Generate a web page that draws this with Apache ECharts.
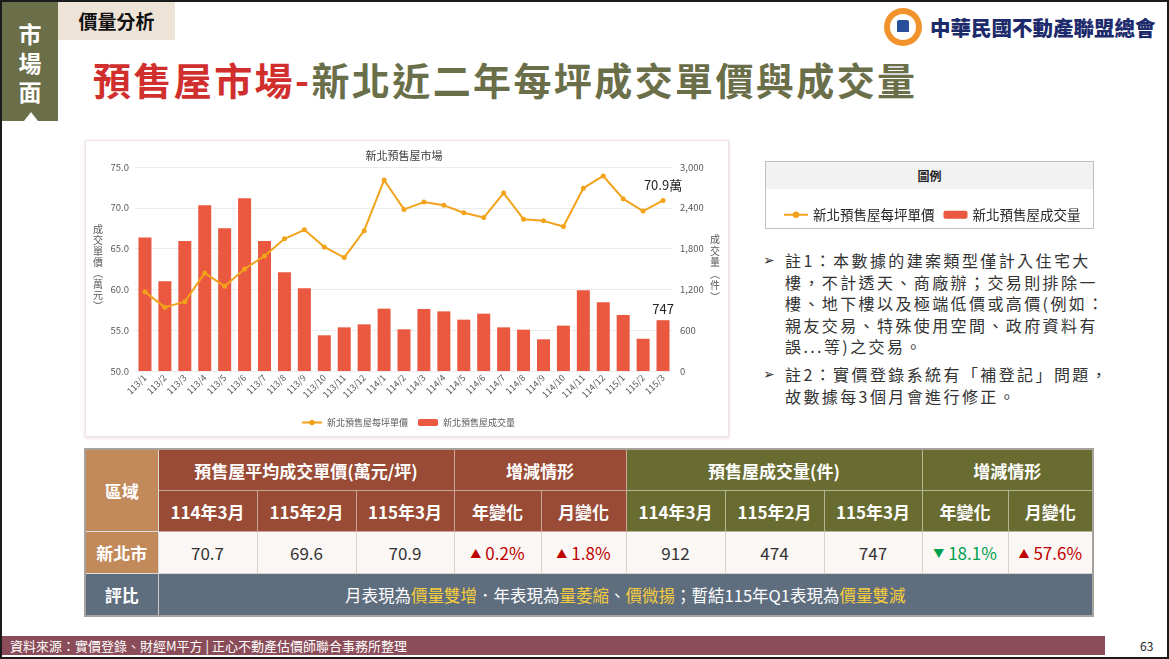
<!DOCTYPE html>
<html>
<head>
<meta charset="utf-8">
<script src="https://cdn.jsdelivr.net/npm/echarts@6/dist/echarts.min.js"></script>
<style>
    body { margin: 0; width: 1169px; height: 659px; overflow: hidden; background: #fff; position: relative;
           font-family: "Noto Sans CJK TC", "Noto Sans", sans-serif; }
    .abs { position: absolute; }
    #frame { left: 0; top: 0; width: 1165px; height: 655px; border: 2px solid #1b1b1b; }
    #tab { left: 2px; top: 2px; width: 56px; height: 119px; background: #6a6e49; color: #fff;
           font-weight: bold; font-size: 23px; line-height: 29px; text-align: center; padding-top: 17px; box-sizing: border-box; }
    #tab .tri { position: absolute; left: 22px; top: 110px; width: 0; height: 0;
                border-left: 7px solid transparent; border-right: 7px solid transparent; border-bottom: 9px solid #fff; }
    #cat { left: 58px; top: 2px; width: 117px; height: 38px; background: #eee3d7; font-weight: bold;
           font-size: 19px; line-height: 38px; text-align: center; color: #111; }
    #title { left: 93px; top: 55px; font-size: 38px; line-height: 48px; font-weight: bold; letter-spacing: 2.4px; white-space: nowrap; }
    #title .r { color: #d12f2e; }
    #title .g { color: #6a6e49; }
    #logo { left: 884px; top: 8px; width: 38px; height: 38px; border-radius: 50%; background: #f2922c; }
    #logo .in { position: absolute; left: 6px; top: 6px; width: 26px; height: 26px; border-radius: 50%; background: #fff; }
    #logo .bd { position: absolute; left: 13px; top: 12px; width: 12px; height: 12px; background: #2a4f9a; border-radius: 2px 2px 0 0; }
    #logotext { left: 930px; top: 9px; font-size: 20.5px; line-height: 36px; font-weight: 900; color: #1d2b6c; white-space: nowrap; }
    #card { left: 85px; top: 140px; width: 642px; height: 295px; border: 1px solid #efe2e0; box-shadow: 0 1px 3px rgba(200,150,150,0.35); background: #fff; }
    #legbox { left: 765px; top: 161px; width: 327px; height: 66px; border: 1px solid #bfbfbf; background: #fff; }
    #legbox .hd { height: 27px; background: #f2f2f2; text-align: center; font-size: 12px; line-height: 27px; color: #222; font-weight: bold; }
    #notes { left: 763px; top: 250px; font-size: 16px; color: #333; letter-spacing: 2.4px; }
    #notes .n { position: relative; padding-left: 22px; line-height: 21.5px; margin-bottom: 6.5px; white-space: nowrap; }
    #notes .n .ar { position: absolute; left: 0; top: 0; font-family: "DejaVu Sans"; font-size: 14px; letter-spacing: 0; }
    #tbl { left: 84px; top: 448px; width: 1008px; border-collapse: collapse; table-layout: fixed; border: 2px solid #a7a39c; }
    #tbl td { padding: 0; text-align: center; border: 1px solid #d9d2cc; white-space: nowrap; }
    #tbl .h1 td, #tbl .h2 td { height: 40px; color: #fff; font-weight: bold; font-size: 17px; }
    #tbl .br { background: #994b36; border-color: #c9a697; }
    #tbl .gr { background: #686c31; border-color: #b4b596; }
    #tbl .tan { background: #c2895b; color: #fff; font-weight: bold; font-size: 17px; border-color: #ddd; }
    #tbl .d td { height: 41px; background: #faf7f5; font-size: 17px; color: #333; }
    #tbl .d td.tan { background: #c2895b; color: #fff; }
    #tbl .d td.up { color: #c00000; }
    #tbl .d td.dn { color: #00a050; }
    #tbl .e td { height: 41px; background: #5e6e7f; color: #fff; font-size: 16.5px; border-color: #c9c9c9; }
    #tbl .e td.b { font-weight: bold; font-size: 17px; }
    #tbl .y { color: #f7cc3d; }
    .t { font-size: 11px; margin-right: 4px; position: relative; top: -2px; }
    #foot { left: 2px; top: 636px; width: 1103px; height: 19px; background: #8a4c58; color: #fff; font-size: 13px; line-height: 19px; padding-left: 8px; box-sizing: border-box; white-space: nowrap; }
    #page { left: 1140px; top: 636px; font-size: 12px; line-height: 19px; color: #222; }
    #chart { left: 0; top: 0; width: 1169px; height: 659px; z-index: 5; }
</style>
</head>
<body>
<div id="frame" class="abs"></div>
<div id="tab" class="abs">市<br>場<br>面<div class="tri"></div></div>
<div id="cat" class="abs">價量分析</div>
<div id="title" class="abs"><span class="r">預售屋市場-</span><span class="g">新北近二年每坪成交單價與成交量</span></div>
<div id="logo" class="abs"><div class="in"></div><div class="bd"></div></div>
<div id="logotext" class="abs">中華民國不動產聯盟總會</div>
<div id="card" class="abs"></div>
<div id="legbox" class="abs"><div class="hd">圖例</div></div>
<div id="notes" class="abs">
    <div class="n"><span class="ar">➢</span>註1：本數據的建案類型僅計入住宅大<br>樓，不計透天、商廠辦；交易則排除一<br>樓、地下樓以及極端低價或高價(例如：<br>親友交易、特殊使用空間、政府資料有<br>誤...等)之交易。</div>
    <div class="n"><span class="ar">➢</span>註2：實價登錄系統有「補登記」問題，<br>故數據每3個月會進行修正。</div>
</div>
<table id="tbl" class="abs">
    <colgroup>
        <col style="width:73px"><col style="width:99px"><col style="width:99px"><col style="width:98px"><col style="width:87px"><col style="width:85px">
        <col style="width:99px"><col style="width:99px"><col style="width:98px"><col style="width:86px"><col style="width:85px">
    </colgroup>
    <tr class="h1">
        <td rowspan="2" class="tan">區域</td>
        <td colspan="3" class="br">預售屋平均成交單價(萬元/坪)</td>
        <td colspan="2" class="br">增減情形</td>
        <td colspan="3" class="gr">預售屋成交量(件)</td>
        <td colspan="2" class="gr">增減情形</td>
    </tr>
    <tr class="h2">
        <td class="br">114年3月</td><td class="br">115年2月</td><td class="br">115年3月</td>
        <td class="br">年變化</td><td class="br">月變化</td>
        <td class="gr">114年3月</td><td class="gr">115年2月</td><td class="gr">115年3月</td>
        <td class="gr">年變化</td><td class="gr">月變化</td>
    </tr>
    <tr class="d">
        <td class="tan">新北市</td>
        <td>70.7</td><td>69.6</td><td>70.9</td>
        <td class="up"><span class="t">▲</span>0.2%</td><td class="up"><span class="t">▲</span>1.8%</td>
        <td>912</td><td>474</td><td>747</td>
        <td class="dn"><span class="t">▼</span>18.1%</td><td class="up"><span class="t">▲</span>57.6%</td>
    </tr>
    <tr class="e">
        <td class="b">評比</td>
        <td colspan="10">月表現為<span class="y">價量雙增</span>．年表現為<span class="y">量萎縮</span>、<span class="y">價微揚</span>；暫結115年Q1表現為<span class="y">價量雙減</span></td>
    </tr>
</table>
<div id="foot" class="abs">資料來源：實價登錄、財經M平方 | 正心不動產估價師聯合事務所整理</div>
<div id="page" class="abs">63</div>
<div id="chart" class="abs"></div>

<script>
var FONT = '"Noto Sans CJK TC", "Noto Sans", sans-serif';

// 月份 (民國年/月)
var months = ['113/1', '113/2', '113/3', '113/4', '113/5', '113/6', '113/7', '113/8', '113/9', '113/10', '113/11', '113/12',
              '114/1', '114/2', '114/3', '114/4', '114/5', '114/6', '114/7', '114/8', '114/9', '114/10', '114/11', '114/12',
              '115/1', '115/2', '115/3'];
// 每坪單價 (萬元)
var unitPrice = [59.7, 57.8, 58.5, 62.0, 60.4, 62.5, 64.1, 66.2, 67.3, 65.2, 63.9, 67.2,
                 73.4, 69.8, 70.7, 70.3, 69.4, 68.8, 71.8, 68.6, 68.4, 67.7, 72.4, 73.9,
                 71.1, 69.6, 70.9];
// 成交量 (件)
var volume = [1965, 1319, 1912, 2436, 2098, 2539, 1912, 1451, 1216, 525, 642, 686,
              917, 613, 912, 877, 755, 843, 642, 608, 466, 667, 1186, 1010,
              824, 474, 747];
var priceTicks = [50, 55, 60, 65, 70, 75];
var volumeTicks = [0, 600, 1200, 1800, 2400, 3000];

var PRICE_NAME = '新北預售屋每坪單價';
var VOL_NAME = '新北預售屋成交量';
var last = months.length - 1;

var chart = echarts.init(document.getElementById('chart'));
var option = {
    animation: false,
    textStyle: { fontFamily: FONT },
    grid: { left: 135, right: 496, top: 167, bottom: 288, containLabel: false, outerBoundsMode: 'none' },
    legend: [{
        left: 296, top: 413,
        itemWidth: 20, itemHeight: 7, itemGap: 10,
        textStyle: { fontSize: 9, color: '#595959' },
        data: [PRICE_NAME, VOL_NAME]
    }, {
        left: 778, top: 203,
        itemWidth: 24, itemHeight: 8, itemGap: 9,
        textStyle: { fontSize: 13.5, color: '#262626' },
        data: [PRICE_NAME, VOL_NAME]
    }],
    xAxis: {
        type: 'category',
        data: months,
        axisLine: { show: false },
        axisTick: { show: false },
        axisLabel: { rotate: 45, fontSize: 9, color: '#595959', margin: 5, interval: 0 }
    },
    yAxis: [{
        type: 'value',
        min: priceTicks[0], max: priceTicks[priceTicks.length - 1], interval: priceTicks[1] - priceTicks[0],
        axisLabel: { fontSize: 9.5, color: '#595959', margin: 6, formatter: function(v) { return v.toFixed(1); } },
        splitLine: { lineStyle: { color: '#ececec' } },
        axisLine: { show: false }, axisTick: { show: false }
    }, {
        type: 'value',
        min: volumeTicks[0], max: volumeTicks[volumeTicks.length - 1], interval: volumeTicks[1] - volumeTicks[0],
        axisLabel: { fontSize: 9.5, color: '#595959', margin: 7, formatter: function(v) { return v.toLocaleString('en-US'); } },
        splitLine: { show: false },
        axisLine: { show: false }, axisTick: { show: false }
    }],
    series: [{
        name: VOL_NAME,
        type: 'bar',
        yAxisIndex: 1,
        barWidth: 13,
        itemStyle: { color: '#e9583f' },
        data: volume.map(function(v, i) {
            return i === last ? { value: v, label: { show: true, position: 'top', distance: 5, fontSize: 13, color: '#262626' } } : v;
        })
    }, {
        name: PRICE_NAME,
        type: 'line',
        yAxisIndex: 0,
        symbol: 'circle',
        symbolSize: 5,
        lineStyle: { color: '#f2a31b', width: 2 },
        itemStyle: { color: '#f2a31b' },
        data: unitPrice.map(function(v, i) {
            return i === last ? { value: v, label: { show: true, position: 'top', distance: 6, fontSize: 13, color: '#262626',
                                  formatter: function(p) { return p.value.toFixed(1) + '萬'; } } } : v;
        })
    }],
    graphic: [{
        type: 'text', x: 404, y: 156,
        style: { text: '新北預售屋市場', fontSize: 11, fill: '#404040', align: 'center', verticalAlign: 'middle', fontFamily: FONT }
    }, {
        type: 'text', x: 98, y: 268,
        style: { text: '成\n交\n單\n價\n︵\n萬\n元\n︶', fontSize: 10, lineHeight: 11, fill: '#595959', align: 'center', verticalAlign: 'middle', fontFamily: FONT }
    }, {
        type: 'text', x: 715, y: 268,
        style: { text: '成\n交\n量\n︵\n件\n︶', fontSize: 10, lineHeight: 11.5, fill: '#595959', align: 'center', verticalAlign: 'middle', fontFamily: FONT }
    }]
};
chart.setOption(option);
</script>
</body>
</html>
